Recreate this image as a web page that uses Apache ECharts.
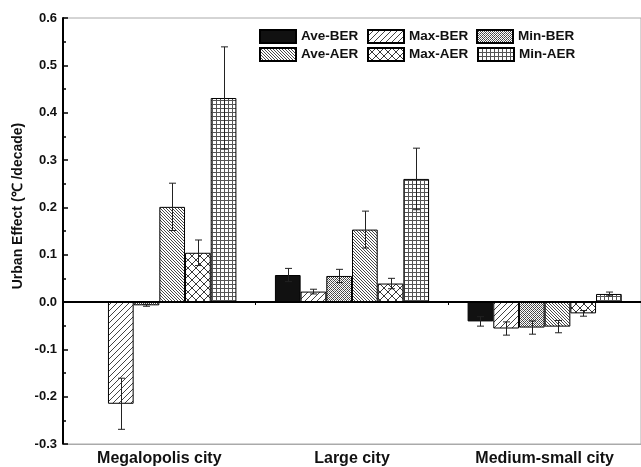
<!DOCTYPE html>
<html>
<head>
<meta charset="utf-8">
<script src="https://cdn.jsdelivr.net/npm/echarts@6/dist/echarts.min.js"></script>
<style>html,body{margin:0;padding:0;background:#fff;}#c{width:641px;height:467px;}</style>
</head>
<body>
<div id="c"></div>
<script>
// ---- data ----
const categories = ['Megalopolis city', 'Large city', 'Medium-small city'];
const seriesNames = ['Ave-BER', 'Max-BER', 'Min-BER', 'Ave-AER', 'Max-AER', 'Min-AER'];
const aveBER = [0, 0.057, -0.041];
const maxBER = [-0.215, 0.022, -0.056];
const minBER = [-0.007, 0.055, -0.054];
const aveAER = [0.201, 0.153, -0.052];
const maxAER = [0.104, 0.039, -0.024];
const minAER = [0.431, 0.260, 0.017];
const aveBERErr = [0, 0.014, 0.010];
const maxBERErr = [0.054, 0.005, 0.014];
const minBERErr = [0.002, 0.014, 0.014];
const aveAERErr = [0.050, 0.039, 0.013];
const maxAERErr = [0.027, 0.011, 0.006];
const minAERErr = [0.108, 0.065, 0.004];
const yTicks = { min: -0.3, max: 0.6, interval: 0.1 };

const values = [aveBER, maxBER, minBER, aveAER, maxAER, minAER];
const errors = [aveBERErr, maxBERErr, minBERErr, aveAERErr, maxAERErr, minAERErr];

// ---- pattern fills ----
function tile(s) { const c = document.createElement('canvas'); c.width = s; c.height = s; const x = c.getContext('2d'); x.fillStyle = '#fff'; x.fillRect(0, 0, s, s); return [c, x]; }
function diag(s, dirs, color, lw) {
  const [c, x] = tile(s);
  x.strokeStyle = color; x.lineWidth = lw; x.beginPath();
  if (dirs.includes('/')) { x.moveTo(-1, 1); x.lineTo(1, -1); x.moveTo(0, s); x.lineTo(s, 0); x.moveTo(s - 1, s + 1); x.lineTo(s + 1, s - 1); }
  if (dirs.includes('\\')) { x.moveTo(0, 0); x.lineTo(s, s); x.moveTo(-1, s - 1); x.lineTo(1, s + 1); x.moveTo(s - 1, -1); x.lineTo(s + 1, 1); }
  x.stroke();
  return c;
}
function grid(s, color, lw) {
  const [c, x] = tile(s);
  x.strokeStyle = color; x.lineWidth = lw; x.beginPath();
  x.moveTo(0, 0.5); x.lineTo(s, 0.5); x.moveTo(0.5, 0); x.lineTo(0.5, s);
  x.stroke();
  return c;
}
function stipple() {
  const [c, x] = tile(4);
  x.fillStyle = '#444';
  x.fillRect(0, 0, 1, 1); x.fillRect(2, 0, 1, 1); x.fillRect(1, 1, 1, 1); x.fillRect(3, 1, 1, 1);
  x.fillRect(0, 2, 1, 1); x.fillRect(2, 2, 1, 1); x.fillRect(1, 3, 1, 1); x.fillRect(3, 3, 1, 1);
  x.fillStyle = 'rgba(255,255,255,0.35)';
  x.fillRect(0, 0, 1, 1); x.fillRect(2, 2, 1, 1);
  return c;
}
const fills = [
  '#111',
  { image: diag(6, '/', '#444', 1), repeat: 'repeat' },
  { image: stipple(), repeat: 'repeat' },
  { image: diag(3, '\\', '#333', 0.9), repeat: 'repeat' },
  { image: diag(8, '/\\', '#222', 0.9), repeat: 'repeat' },
  { image: grid(4, '#555', 1), repeat: 'repeat' }
];

const FONT = 'Liberation Sans, Arial, sans-serif';

const barSeries = seriesNames.map((n, i) => ({
  name: n,
  type: 'bar',
  data: values[i],
  barGap: 0,
  barCategoryGap: '20%',
  itemStyle: { color: fills[i], borderColor: '#000', borderWidth: 1 },
  emphasis: { disabled: true }
}));

const errData = [];
values.forEach((vals, s) => vals.forEach((v, c) => {
  if (errors[s][c] > 0) errData.push([c, s, v - errors[s][c], v + errors[s][c]]);
}));

const errSeries = {
  type: 'custom',
  z: 5,
  data: errData,
  encode: { x: 0, y: [2, 3] },
  renderItem: function (params, api) {
    const cat = api.value(0), s = api.value(1);
    const band = api.size([1, 0])[0];
    const bw = band * 0.8 / 6;
    const cx = Math.round(api.coord([cat, 0])[0] - band * 0.4 + bw * (s + 0.5)) + 0.5;
    const y1 = api.coord([cat, api.value(2)])[1];
    const y2 = api.coord([cat, api.value(3)])[1];
    const st = { stroke: '#222', lineWidth: 1 };
    const h = 3.5;
    return {
      type: 'group',
      children: [
        { type: 'line', shape: { x1: cx, y1: y1, x2: cx, y2: y2 }, style: st },
        { type: 'line', shape: { x1: cx - h, y1: y1, x2: cx + h, y2: y1 }, style: st },
        { type: 'line', shape: { x1: cx - h, y1: y2, x2: cx + h, y2: y2 }, style: st }
      ]
    };
  }
};

const legendPos = [[259, 29], [367, 29], [476, 29], [259, 47], [367, 47], [477, 47]];
const legends = seriesNames.map((n, i) => ({
  data: [n],
  left: legendPos[i][0], top: legendPos[i][1],
  padding: 0,
  icon: 'rect',
  itemWidth: 36, itemHeight: 13, itemGap: 0,
  selectedMode: false,
  textStyle: { fontFamily: FONT, fontWeight: 'bold', fontSize: 13.5, color: '#111' }
}));

const chart = echarts.init(document.getElementById('c'), null, { renderer: 'canvas' });
chart.setOption({
  animation: false,
  backgroundColor: '#fff',
  grid: { left: 63, top: 18, width: 580, height: 427, show: true, borderColor: '#aaa', borderWidth: 1, backgroundColor: 'transparent' },
  legend: legends,
  xAxis: [
    {
      type: 'category', data: categories, position: 'bottom',
      axisLine: { onZero: false, lineStyle: { color: '#aaa', width: 1 } },
      axisTick: { show: false },
      axisLabel: { margin: 7, fontFamily: FONT, fontWeight: 'bold', fontSize: 16, color: '#111' },
      splitLine: { show: false }
    },
    {
      type: 'category', data: categories, position: 'bottom', z: 10,
      axisLine: { onZero: true, lineStyle: { color: '#000', width: 2 } },
      axisTick: { show: true, length: 3, lineStyle: { color: '#000', width: 1 } },
      axisLabel: { show: false },
      splitLine: { show: false }
    }
  ],
  yAxis: {
    type: 'value', min: yTicks.min, max: yTicks.max, interval: yTicks.interval,
    axisLine: { show: true, lineStyle: { color: '#000', width: 2 } },
    axisTick: { show: true, inside: true, length: 5, lineStyle: { color: '#000', width: 1.5 } },
    minorTick: { show: true, splitNumber: 2, length: 3, lineStyle: { color: '#000', width: 1.5 } },
    splitLine: { show: false },
    axisLabel: { margin: 6, fontFamily: FONT, fontWeight: 'bold', fontSize: 13, color: '#111',
      formatter: v => v.toFixed(1) }
  },
  graphic: [{
    type: 'text', x: 18, y: 206, rotation: Math.PI / 2,
    style: { text: 'Urban Effect (℃ /decade)', fontFamily: FONT, fontWeight: 'bold', fontSize: 14, fill: '#111', align: 'center', verticalAlign: 'middle' }
  }],
  series: barSeries.concat([errSeries])
});
</script>
</body>
</html>
